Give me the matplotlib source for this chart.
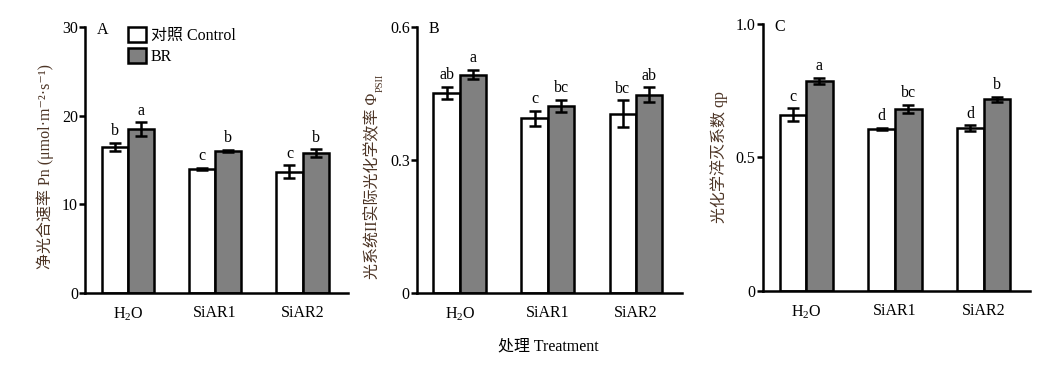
import matplotlib.pyplot as plt
import numpy as np

plt.rcParams.update({"font.family": ["Liberation Serif", "Noto Sans CJK SC", "DejaVu Serif"],
                     "mathtext.fontset": "custom", "mathtext.rm": "Liberation Serif",
                     "mathtext.it": "Liberation Serif:italic", "font.size": 11,
                     "axes.linewidth": 1.8})

groups = ["H$_2$O", "SiAR1", "SiAR2"]
series = ["对照 Control", "BR"]

pn_ctrl = [16.5, 14.0, 13.7]
pn_ctrl_err = [0.45, 0.15, 0.68]
pn_br = [18.5, 16.0, 15.75]
pn_br_err = [0.75, 0.15, 0.45]
pn_ctrl_sig = ["b", "c", "c"]
pn_br_sig = ["a", "b", "b"]

phi_ctrl = [0.451, 0.393, 0.404]
phi_ctrl_err = [0.0135, 0.017, 0.030]
phi_br = [0.492, 0.422, 0.447]
phi_br_err = [0.011, 0.0135, 0.017]
phi_ctrl_sig = ["ab", "c", "bc"]
phi_br_sig = ["a", "bc", "ab"]

qp_ctrl = [0.66, 0.6075, 0.609]
qp_ctrl_err = [0.025, 0.004, 0.011]
qp_br = [0.7875, 0.6825, 0.7175]
qp_br_err = [0.011, 0.015, 0.01]
qp_ctrl_sig = ["c", "d", "d"]
qp_br_sig = ["a", "bc", "b"]

# tag, ylabel, ticks, tick labels, data..., axes rect, ylabel centre (axes frac)
panels = [
    ("A", "净光合速率 Pn (μmol·m⁻²·s⁻¹)", [0, 10, 20, 30], ["0", "10", "20", "30"],
     pn_ctrl, pn_ctrl_err, pn_br, pn_br_err, pn_ctrl_sig, pn_br_sig,
     [0.0807, 0.2124, 0.2498, 0.715], 0.477),
    ("B", "光系统II实际光化学效率 Φ", [0, 0.3, 0.6], ["0", "0.3", "0.6"],
     phi_ctrl, phi_ctrl_err, phi_br, phi_br_err, phi_ctrl_sig, phi_br_sig,
     [0.3957, 0.2132, 0.2517, 0.715], 0.40),
    ("C", "光化学淬灭系数 qp", [0, 0.5, 1.0], ["0", "0.5", "1.0"],
     qp_ctrl, qp_ctrl_err, qp_br, qp_br_err, qp_ctrl_sig, qp_br_sig,
     [0.7243, 0.2185, 0.2537, 0.717], 0.5),
]

fig = plt.figure(figsize=(10.53, 3.72), dpi=100)
x = np.arange(len(groups))
w = 0.30
label_color = "#4d3526"
axes = []

for tag, ylab, yt, ytl, c, ce, b, be, cs, bs, pos, ly in panels:
    ax = fig.add_axes(pos)
    axes.append(ax)
    ekw = dict(elinewidth=1.8, capthick=1.8, ecolor="black")
    ax.bar(x - w / 2, c, w, yerr=ce, color="white", edgecolor="black", linewidth=1.8,
           capsize=4.5, error_kw=ekw, label=series[0], zorder=2)
    ax.bar(x + w / 2, b, w, yerr=be, color="#808080", edgecolor="black", linewidth=1.8,
           capsize=4.5, error_kw=ekw, label=series[1], zorder=2)
    for xi, v, e, s in zip(x - w / 2, c, ce, cs):
        ax.annotate(s, (xi, v + e), xytext=(0, 2.5), textcoords="offset points",
                    ha="center", va="bottom", fontsize=11.5)
    for xi, v, e, s in zip(x + w / 2, b, be, bs):
        ax.annotate(s, (xi, v + e), xytext=(0, 2.5), textcoords="offset points",
                    ha="center", va="bottom", fontsize=11.5)
    ax.set_xlim(-0.49, 2.52)
    ax.set_ylim(yt[0], yt[-1])
    ax.set_yticks(yt)
    ax.set_yticklabels(ytl)
    ax.set_xticks(x)
    ax.set_xticklabels(groups, fontsize=11.5)
    ax.tick_params(axis="x", length=0, pad=9)
    ax.tick_params(axis="y", direction="out", length=4, width=1.8, pad=1, labelsize=11.5)
    for sp in ["top", "right"]:
        ax.spines[sp].set_visible(False)
    ax.set_ylabel(ylab, color=label_color, fontsize=11.5, labelpad=6)
    ax.yaxis.label.set_y(ly)
    ax.text(0.045, 0.99, tag, transform=ax.transAxes, ha="left", va="center", fontsize=11.5)
    if tag == "A":
        ax.legend(loc="upper left", bbox_to_anchor=(0.14, 1.025), frameon=False,
                  handlelength=1.1, handleheight=1.1, handletextpad=0.3,
                  labelspacing=0.25, fontsize=11.5, borderaxespad=0)

# subscript PSII after the Φ of panel B
fig.canvas.draw()
renderer = fig.canvas.get_renderer()
bb = axes[1].yaxis.label.get_window_extent(renderer)
W, H = fig.bbox.width, fig.bbox.height
fig.text((bb.x1 + 3) / W, (bb.y1 + 1) / H, "PSII", rotation=90, ha="right", va="bottom",
         fontsize=7.5, color=label_color)

fig.text(0.521, 0.068, "处理 Treatment", ha="center", va="center", fontsize=11.5)
fig.savefig("out.png", dpi=100)
